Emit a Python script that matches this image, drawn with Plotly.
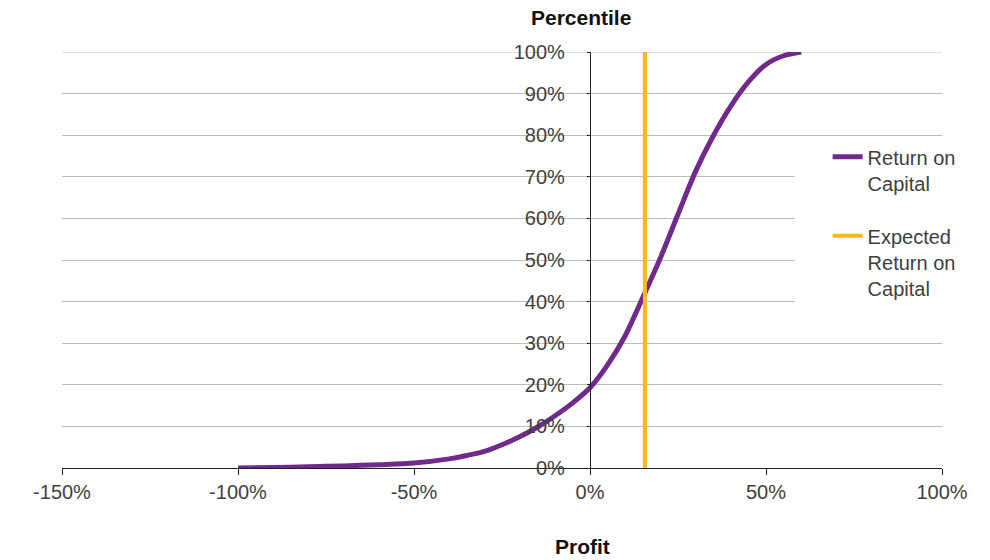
import plotly.graph_objects as go

# Data (percent units)
profit = [-100, -90, -80, -70, -60, -50, -40, -35, -30, -25, -20, -15, -10, -5,
          0, 5, 10, 15, 20, 25, 30, 35, 40, 45, 50, 55, 60]
percentile = [0, 0.1, 0.3, 0.5, 0.8, 1.2, 2.2, 3.0, 4.0, 5.6, 7.5, 9.8, 12.5, 15.6,
              19.3, 24.8, 31.8, 41.0, 50.5, 61.0, 71.3, 79.8, 87.0, 92.8, 97.0, 99.1, 100]
expected_return = 15.6
expected_y = [0, 100]

x_tickvals = [-150, -100, -50, 0, 50, 100]
x_ticktext = ["-150%", "-100%", "-50%", "0%", "50%", "100%"]
y_tickvals = [0, 10, 20, 30, 40, 50, 60, 70, 80, 90, 100]
y_ticktext = ["0%", "10%", "20%", "30%", "40%", "50%", "60%", "70%", "80%", "90%", "100%"]

FONT = "Liberation Sans, Arial, sans-serif"
TXT = "#404040"
GRID = "#BDBDBD"

fig = go.Figure()
fig.add_trace(go.Scatter(
    x=profit, y=percentile, mode="lines", name="Return on<br>Capital",
    line=dict(color="#6F2A8C", width=5, shape="spline", smoothing=0.8),
    legendgroup="a"))
fig.add_trace(go.Scatter(
    x=[expected_return, expected_return], y=expected_y, mode="lines",
    name="Expected<br>Return on<br>Capital",
    line=dict(color="#FDB61C", width=4), legendgroup="b"))

fig.update_layout(
    width=990, height=560,
    margin=dict(l=62, r=48, t=52, b=92),
    paper_bgcolor="white", plot_bgcolor="white",
    font=dict(family=FONT, size=20, color=TXT),
    xaxis=dict(range=[-150, 100], tickvals=x_tickvals, ticktext=x_ticktext,
               showgrid=False, zeroline=False, showline=True, linecolor="#202020",
               linewidth=1, ticks="outside", ticklen=6, tickcolor="#202020",
               tickfont=dict(size=20, color=TXT), domain=[0, 1]),
    yaxis=dict(range=[0, 100], tickvals=y_tickvals, ticktext=y_ticktext,
               showgrid=True, gridcolor=GRID, gridwidth=1.2, zeroline=False,
               showline=True, linecolor="#202020", linewidth=1.2,
               ticks="outside", ticklen=3, tickcolor="#202020",
               anchor="free", position=0.6, ticklabelstandoff=18,
               tickfont=dict(size=20, color=TXT)),
    legend=dict(x=0.870, xanchor="left", y=0.795, yanchor="top",
                bgcolor="rgba(0,0,0,0)", font=dict(size=20, color=TXT),
                valign="top", tracegroupgap=24),
    shapes=[
        dict(type="line", xref="paper", yref="y", x0=0, x1=1,
             y0=y_tickvals[-1], y1=y_tickvals[-1],
             line=dict(color=GRID, width=1.2), layer="below"),
        dict(type="rect", xref="paper", yref="paper",
             x0=0.833, x1=1.06, y0=0.356, y1=0.788,
             fillcolor="white", line=dict(width=0), layer="above"),
    ],
    annotations=[
        dict(text="<b>Percentile</b>", xref="paper", yref="paper", x=0.59, y=1.082,
             showarrow=False, font=dict(size=21, color="#111111"),
             xanchor="center", yanchor="middle"),
        dict(text="<b>Profit</b>", xref="paper", yref="paper", x=0.592, y=-0.1875,
             showarrow=False, font=dict(size=21, color="#111111"),
             xanchor="center", yanchor="middle"),
    ],
)

fig.write_html("out.html")
